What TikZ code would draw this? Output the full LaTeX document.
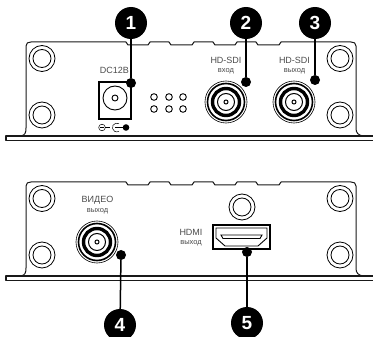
\documentclass[tikz,border=0pt]{standalone}
\usepackage{fontspec}
\setmainfont{Liberation Sans}
\begin{document}
\begin{tikzpicture}[x=1pt,y=-1pt,
  panel/.style={line width=1pt,line join=round,black!90},
  lead/.style={line width=1.5pt,black},
  badge/.style={circle,fill=black,minimum size=32pt,inner sep=0pt,text=white,font=\fontsize{19}{19}\selectfont\bfseries},
  pin/.style={circle,fill=black,minimum size=10pt,inner sep=0pt},
  lab/.style={font=\fontsize{9}{9}\selectfont,text=black!70,inner sep=0pt},
  sublab/.style={font=\fontsize{7.5}{7.5}\selectfont,text=black!70,inner sep=0pt},
]
\useasboundingbox (0,0) rectangle (373,337);
\fill[white] (0,0) rectangle (373,337);
\newcommand{\chassis}[1]{%
  \begin{scope}[shift={(0,#1)}]
  \draw[panel] (21,136) .. controls (25,135) and (26,133) .. (26,128) -- (26,46) .. controls (26,43) and (28,42) .. (31,42)
    -- (126,42) -- (128,45) -- (148,45) -- (150,42) -- (169,42) -- (171,45) -- (192,45) -- (194,42) -- (213,42) -- (215,45) -- (235,45) -- (237,42) -- (256,42) -- (258,45) -- (279,45) -- (281,42)
    -- (351,42) .. controls (354,42) and (356,43) .. (356,46) -- (356,128) .. controls (356,133) and (358,135) .. (363,136);
  \draw[panel,line width=1.1pt] (373,136) -- (6,136) -- (6,140.5) -- (373,140.5);
  \foreach \sx/\sy in {42/58.5,42/115,340/58.5,340/115}{
    \draw[line width=.8pt] (\sx,\sy) circle (13);
    \draw[line width=.8pt] (\sx,\sy) circle (9);
  }
  \end{scope}}
\newcommand{\bnc}[2]{%
  \draw[line width=.6pt] (#1,#2) circle (21);
  \draw[line width=1.6pt] (#1,#2) circle (18.5);
  \draw[line width=3.4pt] (#1,#2) circle (13.5);
  \draw[line width=1pt] (#1,#2) circle (8.5);
  \draw[line width=1pt] (#1,#2) circle (2);
}
\chassis{0}
\chassis{140}
% DC
\draw[line width=1.1pt] (99,82) rectangle (131,119);
\draw[line width=.9pt] (115,98) circle (12);
\draw[line width=.9pt] (115,98) circle (3);
\foreach \dx in {154,169,183}\foreach \dy in {97,109}{\draw[line width=.9pt] (\dx,\dy) circle (3.3);}
% power symbol
\draw[line width=.5pt] (102,127.5) circle (3.3);
\draw[line width=.5pt] (100,127.5) -- (104,127.5);
\draw[line width=.5pt] (105.3,127.5) -- (110,127.5);
\draw[line width=.5pt] (119,123.7) arc[start angle=-60,end angle=-300,radius=4.4];
\draw[line width=.5pt] (115,127.5) -- (123,127.5);
\fill (126,127.5) circle (3.3);
\node[lab] at (114.5,70) {DC12В};
% BNCs
\bnc{226}{102}
\bnc{294}{102}
\bnc{97}{242}
\node[lab] at (226,60.5) {HD-SDI};
\node[sublab] at (226,71) {вход};
\node[lab] at (294.5,60.5) {HD-SDI};
\node[sublab] at (294.5,71) {выход};
\node[lab] at (97.5,200.5) {ВИДЕО};
\node[sublab] at (97.5,211.5) {выход};
\node[lab] at (191,232) {HDMI};
\node[sublab] at (191,243) {выход};
% centre screw
\draw[line width=.8pt] (242,207) circle (13);
\draw[line width=.8pt] (242,207) circle (9);
% HDMI
\draw[line width=1.1pt] (213,225) rectangle (270,249);
\draw[line width=.9pt] (216,228) -- (267,228) -- (267,238) -- (258,246) -- (225,246) -- (216,238) -- cycle;
\draw[line width=.9pt] (221,235) -- (262,235) -- (260,238.5) -- (223,238.5) -- cycle;
% badges
\node[badge] (n1) at (131,23) {1};
\node[badge] (n2) at (246,23) {2};
\node[badge] (n3) at (315,23) {3};
\node[badge] (n4) at (120,325) {4};
\node[badge] (n5) at (247,323) {5};
\node[pin] (p1) at (131,83) {};
\node[pin] (p2) at (246,82) {};
\node[pin] (p3) at (315,80) {};
\node[pin] (p4) at (121,255) {};
\node[pin] (p5) at (247,252) {};
\draw[lead] (n1) -- (p1);
\draw[lead] (n2) -- (p2);
\draw[lead] (n3) -- (p3);
\draw[lead] (n4) -- (p4);
\draw[lead] (n5) -- (p5);
\end{tikzpicture}
\end{document}
